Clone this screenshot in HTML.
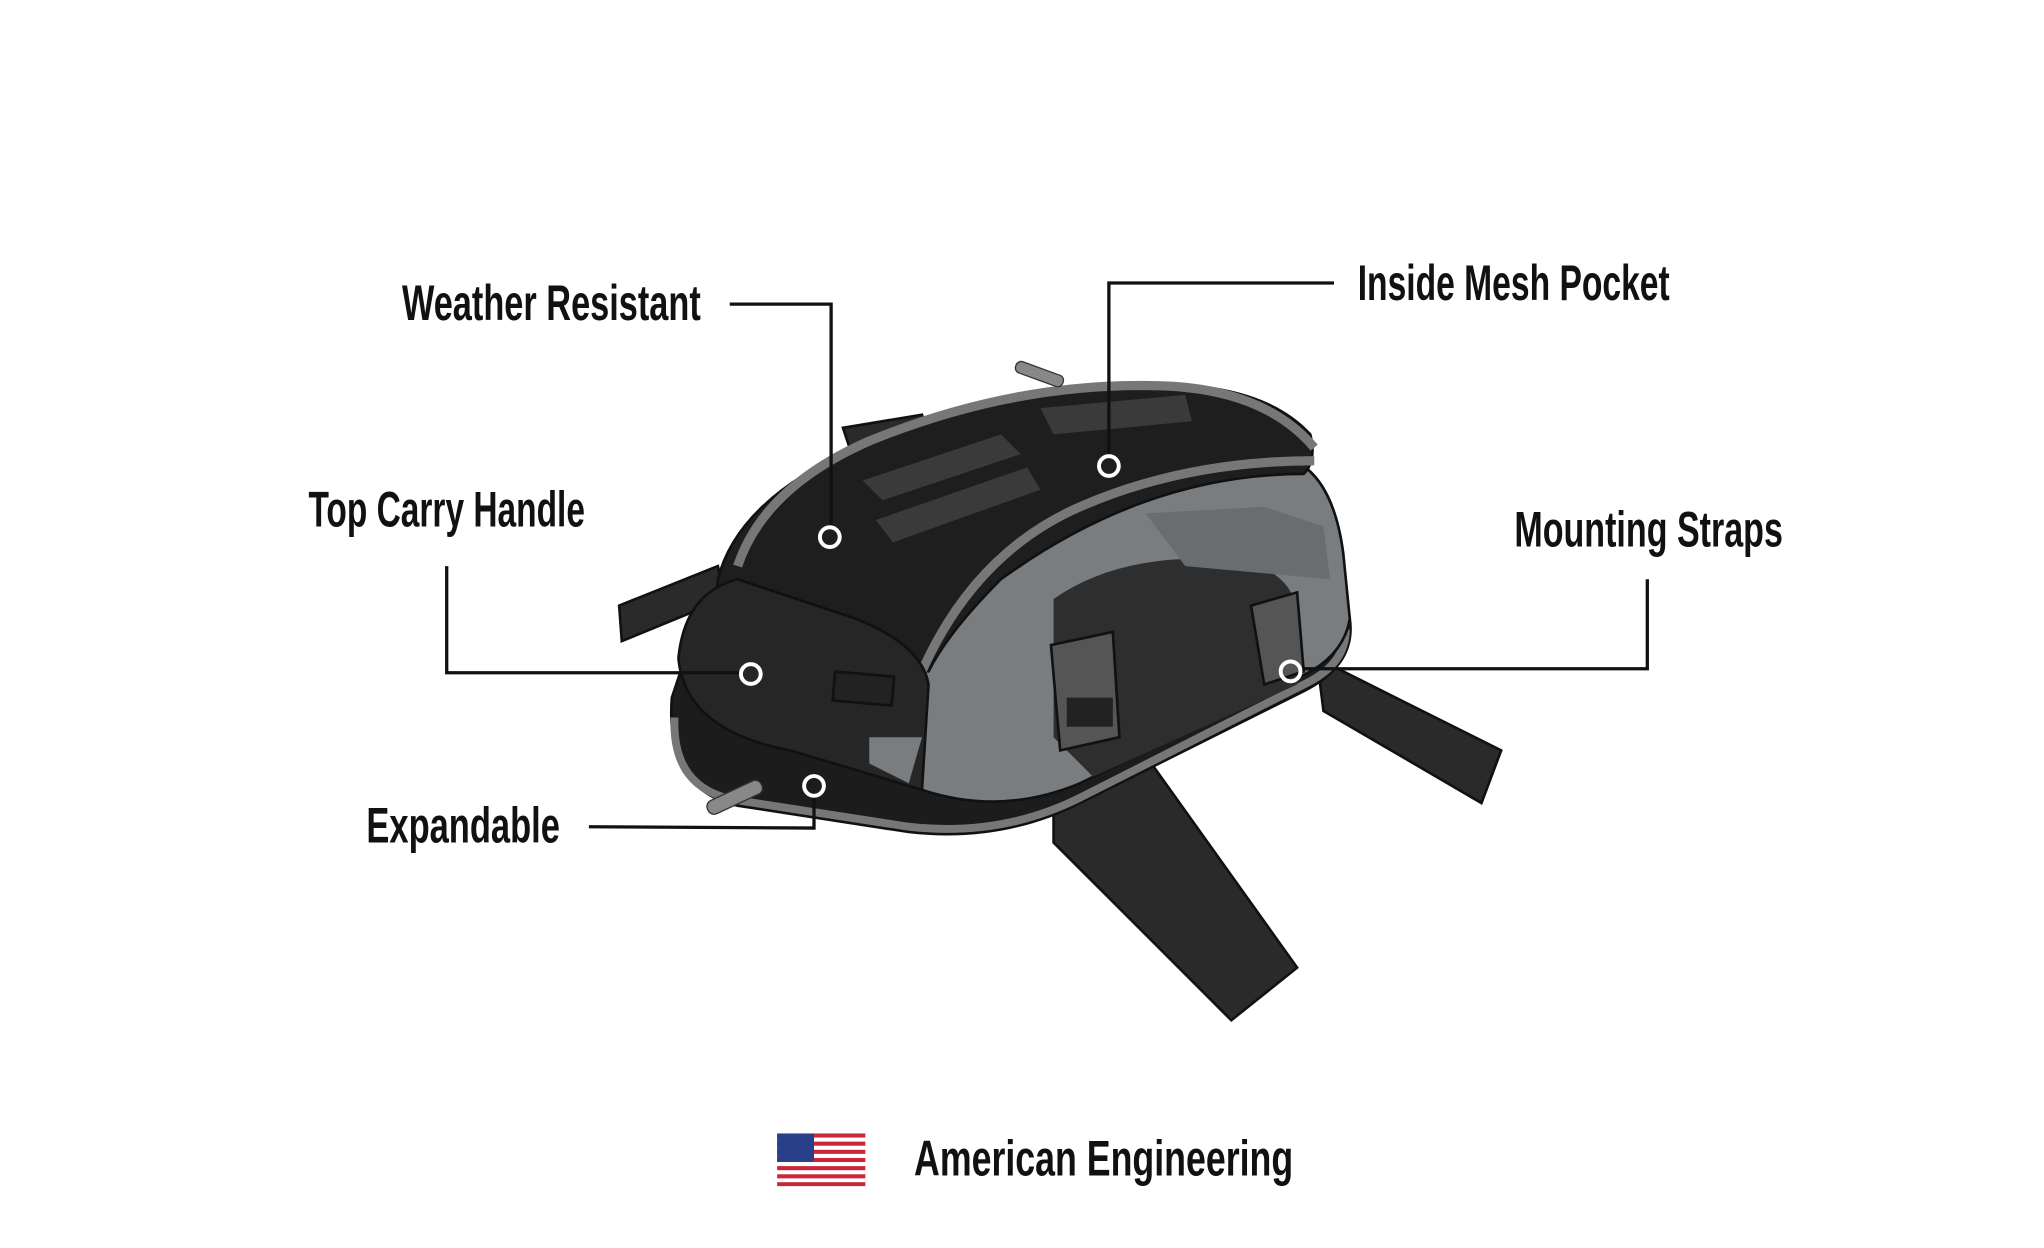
<!DOCTYPE html>
<html><head><meta charset="utf-8"><style>
html,body{margin:0;padding:0;background:#fff;width:2044px;height:1248px;overflow:hidden}
svg{display:block}
text{font-family:"Liberation Sans Narrow","Liberation Sans",sans-serif;font-weight:bold;fill:#111;font-size:38px}
</style></head><body>
<svg width="2044" height="1248" viewBox="0 0 1552 948" xmlns="http://www.w3.org/2000/svg">
<rect width="1552" height="948" fill="#fff"/>
<path d="M1000,500 L1140,570 L1125,610 L1005,540 Z" fill="#2a2a2a" stroke="#111" stroke-width="2"/>
<path d="M800,560 L860,560 L985,735 L935,775 L800,640 Z" fill="#2a2a2a" stroke="#111" stroke-width="2"/>
<path d="M470,460 L545,430 L550,455 L472,487 Z" fill="#2a2a2a" stroke="#111" stroke-width="2"/>
<path d="M640,325 L700,315 L705,330 L645,340 Z" fill="#2a2a2a" stroke="#111" stroke-width="2"/>
<path d="M510,530 Q505,600 560,612 L690,632 Q760,640 820,610 L990,525 Q1030,505 1025,470 L1020,440 L520,500 Z" fill="#1c1c1c" stroke="#111" stroke-width="2"/>
<path d="M512,545 Q510,600 560,608 L690,628 Q760,636 820,606 L990,520 Q1022,505 1022,478" fill="none" stroke="#777" stroke-width="6"/>
<path d="M700,470 Q770,360 960,345 Q1010,345 1020,420 L1025,470 Q1020,500 985,515 L820,595 Q760,620 700,600 Z" fill="#7a7d80" stroke="#111" stroke-width="2"/>
<path d="M800,455 Q850,420 930,425 Q990,430 985,480 L985,520 L830,590 L800,560 Z" fill="#2e2e2e"/>
<path d="M870,390 L960,385 L1005,400 L1010,440 L900,430 Z" fill="#6a6d70"/>
<path d="M545,440 Q560,380 650,340 Q760,292 880,292 Q960,292 995,330 Q1000,350 990,360 Q870,360 760,440 Q720,480 705,510 L600,500 Q540,490 545,440 Z" fill="#1e1e1e" stroke="#111" stroke-width="2"/>
<path d="M560,430 Q580,370 660,335 Q770,290 880,293 Q960,295 998,340" fill="none" stroke="#777" stroke-width="7"/>
<path d="M700,510 Q740,420 820,385 Q900,350 998,350" fill="none" stroke="#777" stroke-width="7"/>
<path d="M655,365 L760,330 L775,345 L670,380 Z" fill="#3a3a3a"/>
<path d="M665,395 L780,355 L790,372 L678,412 Z" fill="#3a3a3a"/>
<path d="M790,310 L900,300 L905,320 L800,330 Z" fill="#3a3a3a"/>
<path d="M515,500 Q520,450 560,440 L650,470 Q700,490 705,520 L700,600 L600,570 Q520,555 515,500 Z" fill="#262626" stroke="#111" stroke-width="2"/>
<rect x="633" y="512" width="45" height="22" fill="#222" stroke="#111" stroke-width="2" transform="rotate(5 655 523)"/>
<path d="M660,560 L700,560 L690,595 L660,580 Z" fill="#7a7d80"/>
<path d="M798,490 L845,480 L850,560 L805,570 Z" fill="#555" stroke="#111" stroke-width="2"/>
<rect x="810" y="530" width="35" height="22" fill="#222"/>
<path d="M950,460 L985,450 L990,510 L960,520 Z" fill="#555" stroke="#111" stroke-width="2"/>
<rect x="770" y="280" width="38" height="9" rx="4" fill="#888" stroke="#333" transform="rotate(20 790 285)"/>
<rect x="535" y="600" width="45" height="11" rx="5" fill="#888" stroke="#333" transform="rotate(-25 558 605)"/>
<g fill="none" stroke="#111" stroke-width="2.5">
<polyline points="554,231 631,231 631,400"/>
<polyline points="1013,215 842,215 842,346"/>
<polyline points="339,430 339,511 562,511"/>
<polyline points="1251,440 1251,508 989,508"/>
<polyline points="447,628 618,629 618,605"/>
</g>
<g fill="none" stroke="#fff" stroke-width="3">
<circle cx="630" cy="408" r="7.5"/>
<circle cx="842" cy="354" r="7.5"/>
<circle cx="570" cy="512" r="7.5"/>
<circle cx="980" cy="510" r="7.5"/>
<circle cx="618" cy="597" r="7.5"/>
</g>
<text x="305" y="243" textLength="227" lengthAdjust="spacingAndGlyphs">Weather Resistant</text>
<text x="1031" y="228" textLength="237" lengthAdjust="spacingAndGlyphs">Inside Mesh Pocket</text>
<text x="234" y="400" textLength="210" lengthAdjust="spacingAndGlyphs">Top Carry Handle</text>
<text x="1150" y="415" textLength="204" lengthAdjust="spacingAndGlyphs">Mounting Straps</text>
<text x="278" y="640" textLength="147" lengthAdjust="spacingAndGlyphs">Expandable</text>
<text x="694" y="893" textLength="288" lengthAdjust="spacingAndGlyphs">American Engineering</text>
<g>
<rect x="590" y="861" width="67" height="40" fill="#fff"/>
<g fill="#c8283a">
<rect x="590" y="861" width="67" height="3.1"/><rect x="590" y="867.2" width="67" height="3.1"/>
<rect x="590" y="873.4" width="67" height="3.1"/><rect x="590" y="879.6" width="67" height="3.1"/>
<rect x="590" y="885.8" width="67" height="3.1"/><rect x="590" y="892" width="67" height="3.1"/>
<rect x="590" y="898" width="67" height="3"/>
</g>
<rect x="590" y="861" width="28" height="21.5" fill="#2a3f8a"/>
</g>
</svg>
</body></html>
